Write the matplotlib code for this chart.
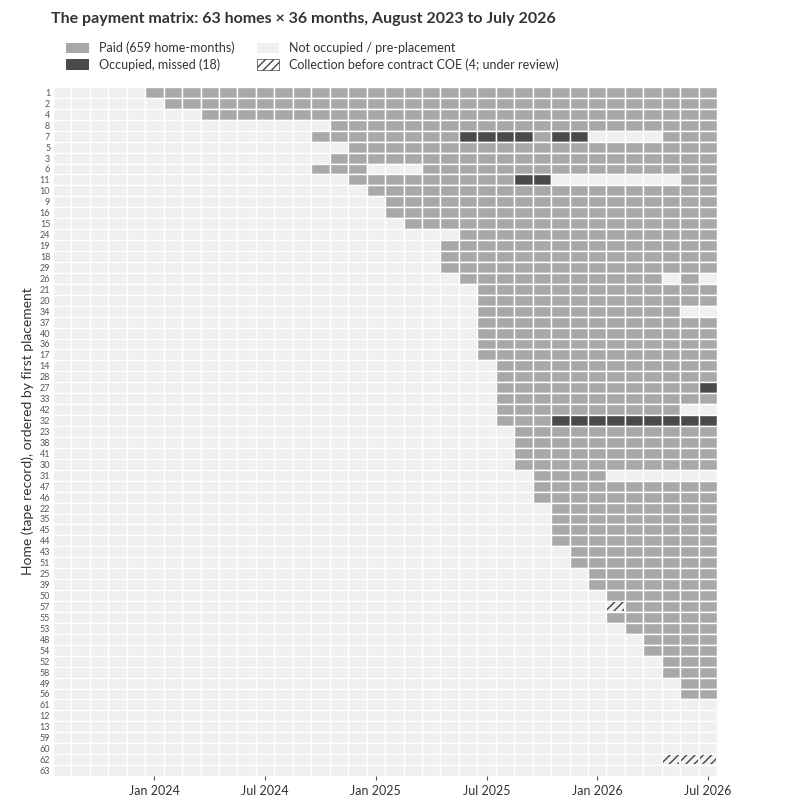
import matplotlib
matplotlib.use("Agg")
import matplotlib.pyplot as plt
from matplotlib.patches import Patch
import numpy as np

plt.rcParams['font.family'] = ['Lato', 'DejaVu Sans']

months = [f"{m} {y}" for y, ms in [(2023, ["Aug","Sep","Oct","Nov","Dec"]),
                                    (2024, ["Jan","Feb","Mar","Apr","May","Jun","Jul","Aug","Sep","Oct","Nov","Dec"]),
                                    (2025, ["Jan","Feb","Mar","Apr","May","Jun","Jul","Aug","Sep","Oct","Nov","Dec"]),
                                    (2026, ["Jan","Feb","Mar","Apr","May","Jun","Jul"])] for m in ms]
homes = [1,2,4,8,7,5,3,6,11,10,9,16,15,24,19,18,29,26,21,20,34,37,40,36,17,14,28,27,33,42,32,23,
         38,41,30,31,47,46,22,35,45,44,43,51,25,39,50,57,55,53,48,54,52,58,49,56,61,12,13,59,60,62,63]
# first paid month index (None = never placed)
start_month = [5,6,8,15,14,16,15,14,16,17,18,18,19,22,21,21,21,22,23,23,23,23,23,23,23,24,24,24,24,24,24,25,
               25,25,25,26,26,26,27,27,27,27,28,28,29,29,30,31,30,31,32,32,33,33,34,34,None,None,None,None,None,None,None]
# exceptions: home -> list of month indices
missed = {7: [22,23,24,25,27,28], 11: [25,26], 27: [35], 32: [27,28,29,30,31,32,33,34,35]}
vacant = {7: [29,30,31,32], 11: [27,28,29,30,31,32,33], 6: [17,18,19], 26: [33,35],
          34: [34,35], 42: [34,35], 31: [30,31,32,33,34,35]}
pre_coe = {57: [30], 62: [33,34,35]}

C_PAID, C_MISS, C_EMPTY = "#a8a8a8", "#4a4a4a", "#f0f0f0"
nr, nc = len(homes), len(months)
status = np.zeros((nr, nc), dtype=int)  # 0 empty,1 paid,2 missed,3 hatch
for i, (h, s) in enumerate(zip(homes, start_month)):
    if s is not None:
        status[i, s:] = 1
    for m in missed.get(h, []): status[i, m] = 2
    for m in vacant.get(h, []): status[i, m] = 0
    for m in pre_coe.get(h, []): status[i, m] = 3

fig = plt.figure(figsize=(7.86, 8.05), dpi=100)
ax = fig.add_axes([0.0674, 0.036, 0.845, 0.856])
cmap = {0: C_EMPTY, 1: C_PAID, 2: C_MISS, 3: C_EMPTY}
for i in range(nr):
    cols = [cmap[v] for v in status[i]]
    ax.bar(np.arange(nc), 1, bottom=i - 0.5, width=1, color=cols, edgecolor="white", linewidth=1.0)
    hx = np.where(status[i] == 3)[0]
    if len(hx):
        ax.bar(hx, 0.8, bottom=i - 0.4, width=0.9, facecolor="none", edgecolor="#444444",
               hatch="////", linewidth=0)

ax.set_xlim(-0.5, nc - 0.5)
ax.set_ylim(nr - 0.5, -0.5)
ax.set_yticks(range(nr))
ax.set_yticklabels([str(h) for h in homes], fontsize=6.5, color="#555555")
ticks = [i for i, m in enumerate(months) if m.startswith("Jan") or m.startswith("Jul")]
ticks = [t for t in ticks if t >= 5]
ax.set_xticks(ticks)
ax.set_xticklabels([months[t] for t in ticks], fontsize=9, color="#333333")
ax.tick_params(axis="y", length=0, pad=2)
ax.tick_params(axis="x", length=3, color="#555555")
for s in ax.spines.values():
    s.set_visible(False)
ax.set_ylabel("Home (tape record), ordered by first placement", fontsize=10, color="#333333")

fig.text(0.065, 0.977, "The payment matrix: 63 homes × 36 months, August 2023 to July 2026",
         fontsize=11.5, fontweight="bold", color="#333333", va="center")
handles = [Patch(facecolor=C_PAID, label="Paid (659 home-months)"),
           Patch(facecolor=C_MISS, label="Occupied, missed (18)"),
           Patch(facecolor=C_EMPTY, label="Not occupied / pre-placement"),
           Patch(facecolor="white", edgecolor="#444444", hatch="////", linewidth=0.5,
                 label="Collection before contract COE (4; under review)")]
fig.legend(handles=handles, loc="upper left", bbox_to_anchor=(0.07, 0.962), ncol=2, frameon=False,
           fontsize=9, handlelength=1.8, handleheight=0.9, columnspacing=1.8, labelspacing=0.3,
           labelcolor="#333333")
fig.savefig("out.png", dpi=100)
